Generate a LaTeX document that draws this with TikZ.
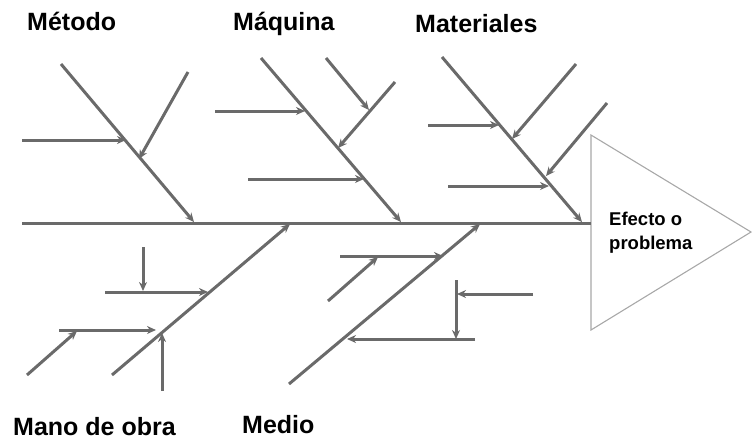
\documentclass[tikz,border=0pt]{standalone}
\usepackage{fontspec}
\setmainfont{Liberation Sans}
\usetikzlibrary{arrows.meta}
\definecolor{bone}{HTML}{6A6A6A}
\definecolor{tri}{HTML}{A8A8A8}
\tikzset{
  ln/.style={draw=bone, line width=3pt},
  arr/.style={ln, -{Stealth[length=9pt,width=8pt]}},
  lbl/.style={anchor=base west, inner sep=0pt, font=\bfseries\fontsize{25}{28}\selectfont},
}
\begin{document}
\begin{tikzpicture}[x=1pt,y=-1pt]
\useasboundingbox (0,0) rectangle (752,442);
% spine and effect
\coordinate (s0) at (22,223);
\coordinate (s1) at (591,223);
\coordinate (t1) at (591,135);
\coordinate (t2) at (751,232);
\coordinate (t3) at (591,330);
\draw[draw=tri, line width=1.1pt, line join=miter] (t1) -- (t2) -- (t3) -- cycle;
\draw[ln] (s0) -- (s1);
\node[anchor=west, align=left, inner sep=0pt, font=\bfseries\fontsize{18.5}{24}\selectfont] (eff) at (609,233) {Efecto o\\problema};
% labels
\node[lbl] (lm) at (27,30) {Método};
\node[lbl] (lq) at (233,30) {Máquina};
\node[lbl] (lt) at (415,32) {Materiales};
\node[lbl] (lo) at (13,435) {Mano de obra};
\node[lbl] (ld) at (242,433) {Medio};
% Metodo
\coordinate (m0) at (61,64); \coordinate (m1) at (194,222);
\draw[arr] (m0) -- (m1);
\coordinate (m2) at (22,140); \coordinate (m3) at (126,140);
\draw[arr] (m2) -- (m3);
\coordinate (m4) at (188,72); \coordinate (m5) at (139,159);
\draw[arr] (m4) -- (m5);
% Maquina
\coordinate (q0) at (261,58); \coordinate (q1) at (401,222);
\draw[arr] (q0) -- (q1);
\coordinate (q2) at (215,111); \coordinate (q3) at (305,111);
\draw[arr] (q2) -- (q3);
\coordinate (q4) at (395,82); \coordinate (q5) at (338,148);
\draw[arr] (q4) -- (q5);
\coordinate (q6) at (326,58); \coordinate (q7) at (369,110);
\draw[arr] (q6) -- (q7);
\coordinate (q8) at (248,179); \coordinate (q9) at (364,179);
\draw[arr] (q8) -- (q9);
% Materiales
\coordinate (a0) at (442,57); \coordinate (a1) at (582,222);
\draw[arr] (a0) -- (a1);
\coordinate (a2) at (428,125); \coordinate (a3) at (499,125);
\draw[arr] (a2) -- (a3);
\coordinate (a4) at (576,64); \coordinate (a5) at (512,139);
\draw[arr] (a4) -- (a5);
\coordinate (a6) at (607,103); \coordinate (a7) at (546,176);
\draw[arr] (a6) -- (a7);
\coordinate (a8) at (448,186); \coordinate (a9) at (549,186);
\draw[arr] (a8) -- (a9);
% Mano de obra
\coordinate (o0) at (112,375); \coordinate (o1) at (290,224);
\draw[arr] (o0) -- (o1);
\coordinate (o2) at (105,292); \coordinate (o3) at (208,292);
\draw[arr] (o2) -- (o3);
\coordinate (o4) at (143,247); \coordinate (o5) at (143,291);
\draw[arr] (o4) -- (o5);
\coordinate (o6) at (59,330); \coordinate (o7) at (156,330);
\draw[arr] (o6) -- (o7);
\coordinate (o8) at (27,375); \coordinate (o9) at (77,331);
\draw[arr] (o8) -- (o9);
\coordinate (oa) at (162,391); \coordinate (ob) at (162,333);
\draw[arr] (oa) -- (ob);
% Medio
\coordinate (d0) at (289,384); \coordinate (d1) at (480,224);
\draw[arr] (d0) -- (d1);
\coordinate (d2) at (340,256); \coordinate (d3) at (443,256);
\draw[arr] (d2) -- (d3);
\coordinate (d4) at (328,301); \coordinate (d5) at (378,257);
\draw[arr] (d4) -- (d5);
\coordinate (d6) at (456,280); \coordinate (d7) at (456,339);
\draw[arr] (d6) -- (d7);
\coordinate (d8) at (533,294); \coordinate (d9) at (457,294);
\draw[arr] (d8) -- (d9);
\coordinate (da) at (475,339); \coordinate (db) at (347,339);
\draw[arr] (da) -- (db);
\end{tikzpicture}
\end{document}
